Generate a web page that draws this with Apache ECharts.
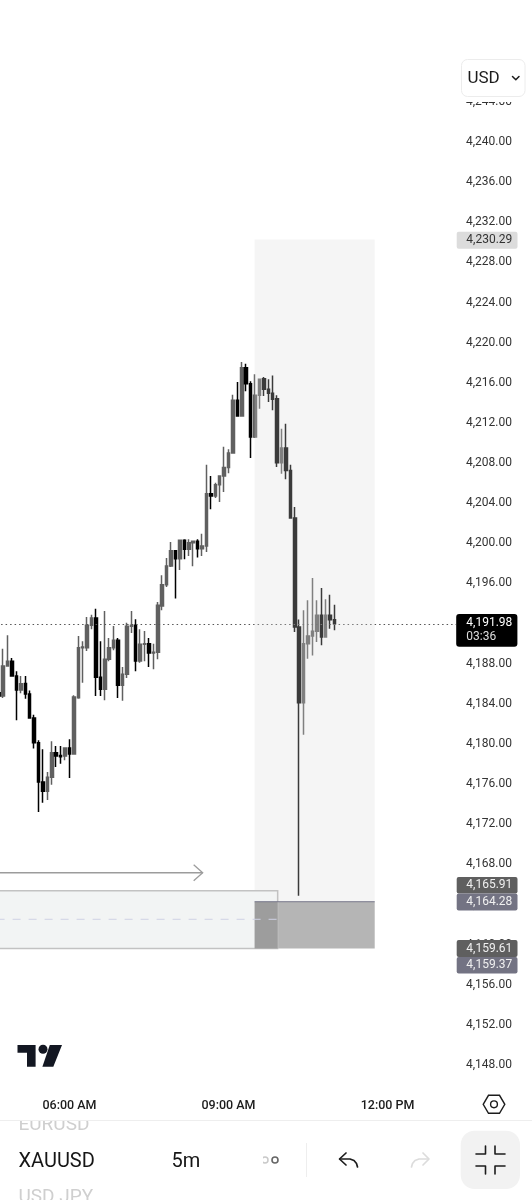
<!DOCTYPE html>
<html>
<head>
<meta charset="utf-8">
<style>html,body{margin:0;padding:0;background:#fff}#c{width:532px;height:1200px}</style>
<script src="https://cdn.jsdelivr.net/npm/echarts@6/dist/echarts.min.js"></script>
</head>
<body>
<div id="c"></div>
<script>
var opens = [4185.10,4184.78,4187.77,4188.24,4186.78,4185.38,4186.04,4184.98,4182.59,4180.13,4176.21,4175.28,4176.68,4179.14,4178.86,4178.80,4179.60,4179.00,4184.62,4189.60,4189.60,4191.83,4192.56,4186.65,4185.45,4188.44,4189.60,4190.33,4185.85,4186.94,4191.73,4191.83,4188.27,4189.93,4190.00,4189.07,4189.14,4193.75,4195.88,4197.74,4199.27,4198.47,4200.30,4199.40,4200.07,4200.20,4199.47,4199.73,4204.95,4204.72,4205.85,4206.71,4207.57,4209.00,4214.25,4212.69,4217.51,4215.91,4210.60,4214.75,4216.41,4215.35,4214.95,4214.42,4208.04,4209.50,4207.27,4202.52,4191.66,4184.12,4190.00,4190.76,4191.23,4192.82,4190.66,4192.82,4192.39];
var closes = [4184.78,4187.77,4188.24,4186.78,4185.38,4186.01,4184.98,4182.59,4180.13,4176.21,4175.28,4176.68,4179.14,4178.80,4178.74,4179.60,4179.00,4184.68,4189.60,4189.67,4191.83,4192.56,4186.65,4185.45,4188.44,4189.60,4190.33,4185.85,4186.94,4191.73,4191.83,4188.27,4189.93,4190.00,4189.07,4189.14,4193.82,4195.88,4197.74,4199.27,4198.47,4200.30,4199.40,4200.07,4200.20,4199.47,4199.73,4204.95,4204.72,4205.85,4206.71,4207.57,4209.00,4214.25,4212.69,4217.51,4215.91,4210.60,4214.75,4216.35,4215.35,4214.95,4214.35,4208.04,4209.50,4207.27,4202.52,4191.66,4184.12,4190.00,4190.76,4191.23,4192.82,4190.66,4192.82,4192.39,4191.98];
var lows = [4183.69,4184.59,4187.77,4186.78,4182.36,4185.05,4184.52,4182.59,4179.54,4173.22,4174.15,4174.42,4175.95,4177.71,4178.04,4178.37,4176.61,4178.94,4184.52,4186.11,4189.27,4191.43,4184.78,4184.78,4184.35,4188.24,4189.34,4184.59,4184.32,4186.58,4191.06,4187.24,4188.11,4188.24,4187.67,4187.44,4188.44,4193.32,4195.65,4197.64,4194.49,4197.34,4198.41,4198.74,4197.71,4198.60,4198.74,4199.14,4203.39,4204.52,4204.12,4205.12,4206.98,4209.00,4212.66,4212.69,4215.15,4208.51,4210.50,4213.42,4214.68,4214.09,4213.26,4207.61,4206.94,4206.38,4202.52,4191.16,4164.88,4180.93,4188.50,4188.83,4190.16,4189.83,4190.66,4191.49,4191.33];
var highs = [4185.40,4189.50,4190.83,4188.57,4187.24,4186.78,4186.78,4185.32,4182.92,4180.37,4179.47,4177.21,4180.27,4179.80,4179.80,4179.60,4180.47,4184.85,4190.76,4190.23,4192.66,4192.89,4193.49,4190.23,4193.26,4190.57,4191.76,4190.57,4187.67,4192.09,4193.26,4192.43,4191.43,4191.26,4190.57,4190.00,4194.15,4196.81,4198.54,4200.13,4199.27,4200.30,4200.40,4200.40,4200.27,4200.40,4200.96,4207.84,4206.71,4206.05,4206.71,4209.63,4209.37,4214.82,4216.08,4218.07,4217.91,4216.15,4216.84,4216.35,4216.58,4216.35,4216.74,4214.75,4211.43,4211.92,4207.84,4203.62,4192.42,4193.32,4194.32,4196.54,4194.32,4195.55,4194.42,4194.88,4193.88];

var timeTicks = ['06:00 AM','09:00 AM','12:00 PM'];
var barTotal = 104;
var firstBarMinutes = 280; // 04:40 AM, 5m bars

var lastPrice = 4191.98;
var countdown = '03:36';
var zoneTop = 4230.29;
var zoneMid = 4164.28;
var zoneBottom = 4159.61;
var boxTop = 4165.38;
var boxMid = 4162.53;
var arrowPrice = 4167.17;
var zoneBars = [58.4, 85.6];
var boxBars = [0, 63.63];
var arrowBars = [0, 46.65];

function pad(n){return (n<10?'0':'')+n;}
var barTimes = [];
for (var i=0;i<barTotal;i++){
  var m = firstBarMinutes + i*5, h = Math.floor(m/60)%24, mm = m%60;
  var hh = h%12===0?12:h%12;
  barTimes.push(pad(hh)+':'+pad(mm)+(h<12?' AM':' PM'));
}
var candles = opens.map(function(o,i){return [o,closes[i],lows[i],highs[i]];});

function fmtPrice(v){return v.toLocaleString('en-US',{minimumFractionDigits:2,maximumFractionDigits:2});}

function rect(api,x0,x1,v0,v1,style){
  var a=api.coord([x0,v0]),b=api.coord([x1,v1]);
  return {type:'rect',shape:{x:a[0],y:a[1],width:b[0]-a[0],height:b[1]-a[1]},style:style};
}
function renderOverlay(params,api){
  var ch=[];
  ch.push(rect(api,zoneBars[0],zoneBars[1],zoneTop,zoneMid,{fill:'rgba(217,217,217,0.267)'}));
  ch.push(rect(api,zoneBars[0],zoneBars[1],zoneMid,zoneBottom,{fill:'#b5b5b5'}));
  ch.push(rect(api,boxBars[0],boxBars[1],boxTop,zoneBottom,{fill:'#f2f4f4',stroke:'#c2c2c2',lineWidth:1.5}));
  ch.push(rect(api,zoneBars[0],boxBars[1],zoneMid,zoneBottom,{fill:'#9d9d9d'}));
  var l0=api.coord([zoneBars[0],zoneMid]),l1=api.coord([zoneBars[1],zoneMid]);
  ch.push({type:'line',shape:{x1:l0[0],y1:l0[1],x2:l1[0],y2:l1[1]},style:{stroke:'#77778a',lineWidth:1}});
  var d0=api.coord([boxBars[0],boxMid]),d1=api.coord([boxBars[1],boxMid]);
  ch.push({type:'line',shape:{x1:d0[0],y1:d0[1],x2:d1[0],y2:d1[1]},style:{stroke:'#cfd2e4',lineWidth:1,lineDash:[8,8]}});
  var a0=api.coord([arrowBars[0],arrowPrice]),a1=api.coord([arrowBars[1],arrowPrice]);
  ch.push({type:'line',shape:{x1:a0[0],y1:a0[1],x2:a1[0],y2:a1[1]},style:{stroke:'#9c9c9c',lineWidth:1.3}});
  ch.push({type:'polyline',shape:{points:[[a1[0]-9,a1[1]-8],[a1[0],a1[1]],[a1[0]-9,a1[1]+8]]},style:{stroke:'#9c9c9c',lineWidth:1.3,fill:'none'}});
  return {type:'group',children:ch};
}

// --- page furniture around the plot ---
var F='Roboto, sans-serif';
function txt(t,x,y,size,color,align,weight){
  return {type:'text',z:100,x:x,y:y,style:{text:t,fill:color,font:(weight||400)+' '+size+'px '+F,textAlign:align||'left',textVerticalAlign:'middle'}};
}
function box(x,y,w,h,fill,r,stroke){
  return {type:'rect',z:100,shape:{x:x,y:y,width:w,height:h,r:r||0},style:{fill:fill,stroke:stroke||null,lineWidth:stroke?1:0}};
}
function stroke(points,color,w){
  return {type:'polyline',z:101,shape:{points:points},style:{stroke:color,lineWidth:w,fill:null,lineCap:'round',lineJoin:'round'}};
}
var badges=[
  {t:fmtPrice(zoneTop),y:231.7,h:17,bg:'#dcdcdc',fg:'#333'},
  {t:'4,165.91',y:877,h:16.5,bg:'#5f5f5f',fg:'#f0f0f0'},
  {t:fmtPrice(zoneMid),y:893.5,h:17,bg:'#737383',fg:'#f0f0f0'},
  {t:fmtPrice(zoneBottom),y:940,h:17,bg:'#5f5f5f',fg:'#f0f0f0'},
  {t:'4,159.37',y:957,h:16.5,bg:'#737383',fg:'#f0f0f0'}
];
var g=[];
g.push(box(0,0,532,102,'#fff'));
g.push(box(461.5,59.5,63.5,37,'#fff',6,'#ececec'));
g.push(txt('USD',467.5,78.5,17,'#1c1c1c'));
g.push(stroke([[512.5,76.5],[515.8,79.8],[519,76.5]],'#1c1c1c',1.5));
badges.forEach(function(b){
  g.push(box(456.7,b.y,60.8,b.h,b.bg,2));
  g.push(txt(b.t,466.3,b.y+b.h/2,12,b.fg));
});
g.push(box(456.2,614,61.2,32.7,'#000',3));
g.push(txt(fmtPrice(lastPrice),466.3,622.8,12,'#fff'));
g.push(txt(countdown,466.3,636.8,12,'#ddd'));
// logo
g.push({type:'polygon',z:100,shape:{points:[[17.5,1045],[35.6,1045],[35.6,1066.8],[27,1066.8],[27,1052.8],[17.5,1052.8]]},style:{fill:'#131722'}});
g.push({type:'circle',z:100,shape:{cx:43,cy:1049.3,r:4.5},style:{fill:'#131722'}});
g.push({type:'polygon',z:100,shape:{points:[[49.8,1045],[62,1045],[53.3,1066.8],[42.4,1066.8]]},style:{fill:'#131722'}});
// settings hexagon
g.push({type:'polygon',z:100,shape:{points:[[483.2,1104.3],[488.5,1095.3],[499.5,1095.3],[504.8,1104.3],[499.5,1113.3],[488.5,1113.3]]},style:{fill:'none',stroke:'#1c1c1c',lineWidth:1.4}});
g.push({type:'circle',z:100,shape:{cx:494,cy:1104.3,r:3.4},style:{fill:'none',stroke:'#1c1c1c',lineWidth:1.4}});
// bottom toolbar
g.push(txt('EURUSD',18.5,1125.5,19,'#cfcfcf'));
g.push(box(0,1112.5,460,7.5,'#fff'));
g.push({type:'line',z:102,shape:{x1:0,y1:1120.5,x2:532,y2:1120.5},style:{stroke:'#eeeeee',lineWidth:1}});
g.push(txt('XAUUSD',18.5,1161.5,20,'#161616'));
g.push(txt('USD JPY',18.5,1197,19,'#cfcfcf'));
g.push(txt('5m',171.5,1161.5,20,'#161616'));
g.push({type:'circle',z:100,shape:{cx:265,cy:1160,r:3},style:{fill:'none',stroke:'#c9c9c9',lineWidth:1.5}});
g.push(box(258,1154,5,12,'#fff'));
g.push({type:'circle',z:100,shape:{cx:275,cy:1160,r:3},style:{fill:'none',stroke:'#666',lineWidth:1.6}});
g.push({type:'line',z:100,shape:{x1:306.5,y1:1143,x2:306.5,y2:1177},style:{stroke:'#eeeeee',lineWidth:1}});
g.push(stroke([[346,1153],[339.5,1159],[346,1165]],'#1c1c1c',1.7));
g.push(stroke([[340,1159],[350,1159],[354,1160.5],[356.5,1163.5],[357.5,1167]],'#1c1c1c',1.7));
g.push(stroke([[423,1153],[429,1159],[423,1165]],'#dcdcdc',1.7));
g.push(stroke([[428,1159],[419,1159],[415,1160.5],[412.5,1163.5],[411.5,1167]],'#dcdcdc',1.7));
g.push(box(460.7,1130.7,59.3,58.3,'#f2f2f2',14));
g.push(stroke([[476,1154],[485.5,1154],[485.5,1146]],'#1c1c1c',1.6));
g.push(stroke([[505,1154],[495,1154],[495,1146]],'#1c1c1c',1.6));
g.push(stroke([[476,1166],[485.5,1166],[485.5,1174]],'#1c1c1c',1.6));
g.push(stroke([[505,1166],[495,1166],[495,1174]],'#1c1c1c',1.6));

var chart = echarts.init(document.getElementById('c'),null,{renderer:'canvas'});
chart.setOption({
  animation:false,
  backgroundColor:'#fff',
  grid:{left:-3.4,top:101.87,width:459.4,height:1003.33,containLabel:false,outerBoundsMode:'none'},
  xAxis:[
    {type:'category',data:barTimes,boundaryGap:true,axisLine:{show:false},axisTick:{show:false},splitLine:{show:false},
     axisLabel:{margin:-5.5,color:'#1c1c1c',fontFamily:F,fontSize:12.5,fontWeight:500,hideOverlap:false,
       interval:function(i,v){return timeTicks.indexOf(v)>=0;}}},
    {type:'value',min:0,max:barTotal,show:false}
  ],
  yAxis:[{type:'value',position:'right',min:4144,max:4244,interval:4,scale:true,
    axisLine:{show:false},axisTick:{show:false},splitLine:{show:false},
    axisLabel:{margin:10,color:'#333',fontFamily:F,fontSize:12,showMinLabel:false,formatter:function(v){return fmtPrice(v);}}}],
  tooltip:{show:false},
  series:[
    {type:'candlestick',data:candles,xAxisIndex:0,yAxisIndex:0,barWidth:3,z:2,clip:false,
     itemStyle:{color:'#606060',color0:'#000',borderColor:'#606060',borderColor0:'#000',borderWidth:1.5},
     markLine:{silent:true,symbol:'none',animation:false,label:{show:false},
       lineStyle:{color:'#555',width:1,type:[1.5,3]},data:[{yAxis:lastPrice}]}},
    {type:'custom',xAxisIndex:1,yAxisIndex:0,z:5,clip:false,silent:true,renderItem:renderOverlay,data:[[0,zoneTop]]}
  ],
  graphic:{elements:g}
});
</script>
</body>
</html>
